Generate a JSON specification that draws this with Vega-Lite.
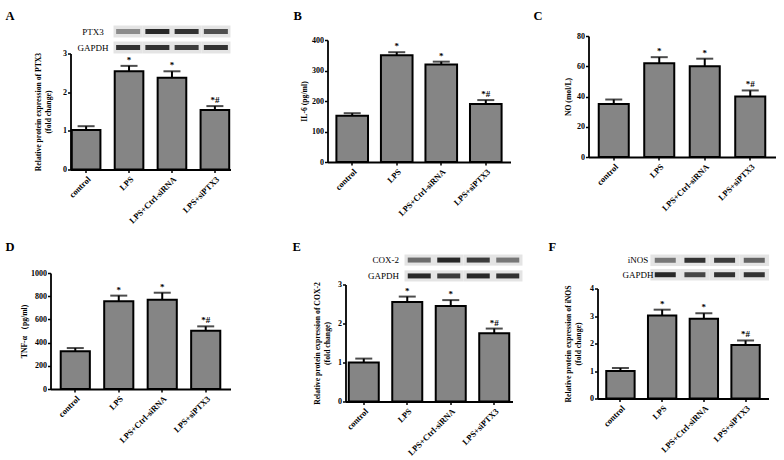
{
  "$schema": "https://vega.github.io/schema/vega-lite/v6.json",
  "background": "white",
  "padding": {"left": 0, "top": 9, "right": 0, "bottom": 0},
  "datasets": {
    "letters": [
      {"panel": "A", "letter": "A"}, {"panel": "B", "letter": "B"}, {"panel": "C", "letter": "C"},
      {"panel": "D", "letter": "D"}, {"panel": "E", "letter": "E"}, {"panel": "F", "letter": "F"},
      {"panel": "row", "letter": ""}
    ],
    "bars": [
      {"panel": "A", "group": "control", "value": 1.02, "upper": 1.12, "sig": ""},
      {"panel": "A", "group": "LPS", "value": 2.54, "upper": 2.68, "sig": "*"},
      {"panel": "A", "group": "LPS+Ctrl-siRNA", "value": 2.37, "upper": 2.54, "sig": "*"},
      {"panel": "A", "group": "LPS+siPTX3", "value": 1.54, "upper": 1.64, "sig": "*#"},
      {"panel": "B", "group": "control", "value": 152, "upper": 160, "sig": ""},
      {"panel": "B", "group": "LPS", "value": 350, "upper": 360, "sig": "*"},
      {"panel": "B", "group": "LPS+Ctrl-siRNA", "value": 320, "upper": 329, "sig": "*"},
      {"panel": "B", "group": "LPS+siPTX3", "value": 190, "upper": 203, "sig": "*#"},
      {"panel": "C", "group": "control", "value": 35, "upper": 38, "sig": ""},
      {"panel": "C", "group": "LPS", "value": 62, "upper": 66, "sig": "*"},
      {"panel": "C", "group": "LPS+Ctrl-siRNA", "value": 60, "upper": 65, "sig": "*"},
      {"panel": "C", "group": "LPS+siPTX3", "value": 40, "upper": 44, "sig": "*#"},
      {"panel": "D", "group": "control", "value": 325, "upper": 353, "sig": ""},
      {"panel": "D", "group": "LPS", "value": 756, "upper": 805, "sig": "*"},
      {"panel": "D", "group": "LPS+Ctrl-siRNA", "value": 770, "upper": 830, "sig": "*"},
      {"panel": "D", "group": "LPS+siPTX3", "value": 503, "upper": 540, "sig": "*#"},
      {"panel": "E", "group": "control", "value": 1.0, "upper": 1.1, "sig": ""},
      {"panel": "E", "group": "LPS", "value": 2.55, "upper": 2.69, "sig": "*"},
      {"panel": "E", "group": "LPS+Ctrl-siRNA", "value": 2.45, "upper": 2.6, "sig": "*"},
      {"panel": "E", "group": "LPS+siPTX3", "value": 1.75, "upper": 1.87, "sig": "*#"},
      {"panel": "F", "group": "control", "value": 1.0, "upper": 1.11, "sig": ""},
      {"panel": "F", "group": "LPS", "value": 3.02, "upper": 3.23, "sig": "*"},
      {"panel": "F", "group": "LPS+Ctrl-siRNA", "value": 2.9, "upper": 3.1, "sig": "*"},
      {"panel": "F", "group": "LPS+siPTX3", "value": 1.95, "upper": 2.11, "sig": "*#"}
    ],
    "blots": [
      {"panel": "A", "protein": "PTX3", "lane": "control", "intensity": 0.45},
      {"panel": "A", "protein": "PTX3", "lane": "LPS", "intensity": 0.95},
      {"panel": "A", "protein": "PTX3", "lane": "LPS+Ctrl-siRNA", "intensity": 0.9},
      {"panel": "A", "protein": "PTX3", "lane": "LPS+siPTX3", "intensity": 0.75},
      {"panel": "A", "protein": "GAPDH", "lane": "control", "intensity": 0.9},
      {"panel": "A", "protein": "GAPDH", "lane": "LPS", "intensity": 0.9},
      {"panel": "A", "protein": "GAPDH", "lane": "LPS+Ctrl-siRNA", "intensity": 0.85},
      {"panel": "A", "protein": "GAPDH", "lane": "LPS+siPTX3", "intensity": 0.9},
      {"panel": "E", "protein": "COX-2", "lane": "control", "intensity": 0.6},
      {"panel": "E", "protein": "COX-2", "lane": "LPS", "intensity": 0.95},
      {"panel": "E", "protein": "COX-2", "lane": "LPS+Ctrl-siRNA", "intensity": 0.85},
      {"panel": "E", "protein": "COX-2", "lane": "LPS+siPTX3", "intensity": 0.55},
      {"panel": "E", "protein": "GAPDH", "lane": "control", "intensity": 0.95},
      {"panel": "E", "protein": "GAPDH", "lane": "LPS", "intensity": 0.85},
      {"panel": "E", "protein": "GAPDH", "lane": "LPS+Ctrl-siRNA", "intensity": 0.95},
      {"panel": "E", "protein": "GAPDH", "lane": "LPS+siPTX3", "intensity": 0.9},
      {"panel": "F", "protein": "iNOS", "lane": "control", "intensity": 0.55},
      {"panel": "F", "protein": "iNOS", "lane": "LPS", "intensity": 0.9},
      {"panel": "F", "protein": "iNOS", "lane": "LPS+Ctrl-siRNA", "intensity": 0.85},
      {"panel": "F", "protein": "iNOS", "lane": "LPS+siPTX3", "intensity": 0.65},
      {"panel": "F", "protein": "GAPDH", "lane": "control", "intensity": 0.95},
      {"panel": "F", "protein": "GAPDH", "lane": "LPS", "intensity": 0.8},
      {"panel": "F", "protein": "GAPDH", "lane": "LPS+Ctrl-siRNA", "intensity": 0.9},
      {"panel": "F", "protein": "GAPDH", "lane": "LPS+siPTX3", "intensity": 0.9}
    ]
  },
  "align": "none",
  "spacing": 15,
  "vconcat": [
    {
      "align": "none",
      "spacing": 4.5,
      "hconcat": [
        {"width": 1, "height": 1, "data": {"name": "letters"}, "transform": [{"filter": "datum.panel === 'row'"}], "mark": {"type": "text", "fontSize": 1}, "encoding": {"text": {"field": "letter"}}},
        {
          "align": "none",
          "spacing": 23,
          "hconcat": [
            {
              "align": "none",
              "spacing": 63,
              "hconcat": [
                {
                  "align": "none",
                  "spacing": 2.5,
                  "vconcat": [
                    {"width": 1, "height": 12, "data": {"name": "letters"}, "transform": [{"filter": "datum.panel === 'A'"}], "mark": {"type": "text", "align": "left", "baseline": "middle", "dx": -65.5, "fontSize": 12.5, "fontWeight": "bold", "color": "black"}, "encoding": {"text": {"field": "letter"}}},
                    {
                      "align": "none",
                      "bounds": "flush",
                      "spacing": 0,
                      "vconcat": [
                        {
                          "width": 160, "height": 28,
                          "data": {"name": "blots"},
                          "transform": [{"filter": "datum.panel === 'A'"}],
                          "encoding": {
                            "x": {"field": "lane", "type": "nominal", "sort": ["control", "LPS", "LPS+Ctrl-siRNA", "LPS+siPTX3"], "axis": null, "scale": {"paddingInner": 0, "paddingOuter": 0.735, "align": 1}},
                            "y": {"field": "protein", "type": "nominal", "sort": ["PTX3", "GAPDH"], "title": null, "scale": {"paddingInner": 0.25, "paddingOuter": 0}, "axis": {"domain": false, "ticks": false, "offset": -43, "labelPadding": 21, "labelAlign": "center", "labelFontWeight": "normal", "labelFontSize": 9}}
                          },
                          "layer": [
                            {"mark": {"type": "rect", "fill": "#e4e4e4"}},
                            {"mark": {"type": "tick", "orient": "horizontal", "color": "#1e1e1e", "size": 24, "thickness": 5}, "encoding": {"opacity": {"field": "intensity", "type": "quantitative", "scale": {"domain": [0, 1], "range": [0, 1]}, "legend": null}}}
                          ]
                        },
                        {
                          "width": 160, "height": 116,
                          "data": {"name": "bars"},
                          "transform": [{"filter": "datum.panel === 'A'"}],
                          "encoding": {
                            "x": {"field": "group", "type": "nominal", "sort": ["control", "LPS", "LPS+Ctrl-siRNA", "LPS+siPTX3"], "title": null, "scale": {"paddingInner": 0.333, "paddingOuter": 0.03}},
                            "y": {"field": "value", "type": "quantitative", "scale": {"domain": [0, 3], "nice": false}, "title": ["Relative protein expression of PTX3", "(fold change)"], "axis": {"values": [0, 1, 2, 3], "titlePadding": 10}}
                          },
                          "layer": [
                            {"mark": {"type": "rule", "color": "black", "strokeWidth": 2}, "encoding": {"y2": {"field": "upper"}}},
                            {"mark": {"type": "tick", "color": "black", "thickness": 2, "size": 17}, "encoding": {"y": {"field": "upper", "type": "quantitative", "title": ["Relative protein expression of PTX3", "(fold change)"]}}},
                            {"mark": {"type": "bar", "fill": "#858585", "stroke": "black", "strokeWidth": 2}},
                            {"mark": {"type": "text", "baseline": "bottom", "dy": -1, "fontSize": 9, "fontWeight": "bold", "color": "black"}, "encoding": {"y": {"field": "upper", "type": "quantitative", "title": ["Relative protein expression of PTX3", "(fold change)"]}, "text": {"field": "sig"}}}
                          ]
                        }
                      ]
                    }
                  ]
                },
                {
                  "align": "none",
                  "spacing": 13,
                  "vconcat": [
                    {"width": 1, "height": 12, "data": {"name": "letters"}, "transform": [{"filter": "datum.panel === 'B'"}], "mark": {"type": "text", "align": "left", "baseline": "middle", "dx": -34.5, "fontSize": 12.5, "fontWeight": "bold", "color": "black"}, "encoding": {"text": {"field": "letter"}}},
                    {
                      "width": 183, "height": 122,
                      "data": {"name": "bars"},
                      "transform": [{"filter": "datum.panel === 'B'"}],
                      "encoding": {
                        "x": {"field": "group", "type": "nominal", "sort": ["control", "LPS", "LPS+Ctrl-siRNA", "LPS+siPTX3"], "title": null, "scale": {"paddingInner": 0.29, "paddingOuter": 0.2}},
                        "y": {"field": "value", "type": "quantitative", "scale": {"domain": [0, 400], "nice": false}, "title": "IL-6 (pg/ml)", "axis": {"values": [0, 100, 200, 300, 400], "titlePadding": 3}}
                      },
                      "layer": [
                        {"mark": {"type": "rule", "color": "black", "strokeWidth": 2}, "encoding": {"y2": {"field": "upper"}}},
                        {"mark": {"type": "tick", "color": "black", "thickness": 2, "size": 17}, "encoding": {"y": {"field": "upper", "type": "quantitative", "title": "IL-6 (pg/ml)"}}},
                        {"mark": {"type": "bar", "fill": "#858585", "stroke": "black", "strokeWidth": 2}},
                        {"mark": {"type": "text", "baseline": "bottom", "dy": -1, "fontSize": 9, "fontWeight": "bold", "color": "black"}, "encoding": {"y": {"field": "upper", "type": "quantitative", "title": "IL-6 (pg/ml)"}, "text": {"field": "sig"}}}
                      ]
                    }
                  ]
                }
              ]
            },
            {
              "align": "none",
              "spacing": 9,
              "vconcat": [
                {"width": 1, "height": 12, "data": {"name": "letters"}, "transform": [{"filter": "datum.panel === 'C'"}], "mark": {"type": "text", "align": "left", "baseline": "middle", "dx": -55.5, "fontSize": 12.5, "fontWeight": "bold", "color": "black"}, "encoding": {"text": {"field": "letter"}}},
                {
                  "width": 187, "height": 121,
                  "data": {"name": "bars"},
                  "transform": [{"filter": "datum.panel === 'C'"}],
                  "encoding": {
                    "x": {"field": "group", "type": "nominal", "sort": ["control", "LPS", "LPS+Ctrl-siRNA", "LPS+siPTX3"], "title": null, "scale": {"paddingInner": 0.34, "paddingOuter": 0.225}},
                    "y": {"field": "value", "type": "quantitative", "scale": {"domain": [0, 80], "nice": false}, "title": "NO (mol/L)", "axis": {"values": [0, 20, 40, 60, 80], "titlePadding": 4}}
                  },
                  "layer": [
                    {"mark": {"type": "rule", "color": "black", "strokeWidth": 2}, "encoding": {"y2": {"field": "upper"}}},
                    {"mark": {"type": "tick", "color": "black", "thickness": 2, "size": 17}, "encoding": {"y": {"field": "upper", "type": "quantitative", "title": "NO (mol/L)"}}},
                    {"mark": {"type": "bar", "fill": "#858585", "stroke": "black", "strokeWidth": 2}},
                    {"mark": {"type": "text", "baseline": "bottom", "dy": -1, "fontSize": 9, "fontWeight": "bold", "color": "black"}, "encoding": {"y": {"field": "upper", "type": "quantitative", "title": "NO (mol/L)"}, "text": {"field": "sig"}}}
                  ]
                }
              ]
            }
          ]
        }
      ]
    },
    {
      "align": "none",
      "spacing": 4.5,
      "hconcat": [
        {"width": 1, "height": 1, "data": {"name": "letters"}, "transform": [{"filter": "datum.panel === 'row'"}], "mark": {"type": "text", "fontSize": 1}, "encoding": {"text": {"field": "letter"}}},
        {
          "align": "none",
          "spacing": 26,
          "hconcat": [
            {
              "align": "none",
              "spacing": 62,
              "hconcat": [
                {
                  "align": "none",
                  "spacing": 15,
                  "vconcat": [
                    {"width": 1, "height": 12, "data": {"name": "letters"}, "transform": [{"filter": "datum.panel === 'D'"}], "mark": {"type": "text", "align": "left", "baseline": "middle", "dx": -45.5, "fontSize": 12.5, "fontWeight": "bold", "color": "black"}, "encoding": {"text": {"field": "letter"}}},
                    {
                      "width": 180, "height": 116,
                      "data": {"name": "bars"},
                      "transform": [{"filter": "datum.panel === 'D'"}],
                      "encoding": {
                        "x": {"field": "group", "type": "nominal", "sort": ["control", "LPS", "LPS+Ctrl-siRNA", "LPS+siPTX3"], "title": null, "scale": {"paddingInner": 0.33, "paddingOuter": 0.235}},
                        "y": {"field": "value", "type": "quantitative", "scale": {"domain": [0, 1000], "nice": false}, "title": "TNF-α （pg/ml)", "axis": {"values": [0, 200, 400, 600, 800, 1000], "format": "d", "titlePadding": 2}}
                      },
                      "layer": [
                        {"mark": {"type": "rule", "color": "black", "strokeWidth": 2}, "encoding": {"y2": {"field": "upper"}}},
                        {"mark": {"type": "tick", "color": "black", "thickness": 2, "size": 17}, "encoding": {"y": {"field": "upper", "type": "quantitative", "title": "TNF-α （pg/ml)"}}},
                        {"mark": {"type": "bar", "fill": "#858585", "stroke": "black", "strokeWidth": 2}},
                        {"mark": {"type": "text", "baseline": "bottom", "dy": -1, "fontSize": 9, "fontWeight": "bold", "color": "black"}, "encoding": {"y": {"field": "upper", "type": "quantitative", "title": "TNF-α （pg/ml)"}, "text": {"field": "sig"}}}
                      ]
                    }
                  ]
                },
                {
                  "align": "none",
                  "spacing": 0.5,
                  "vconcat": [
                    {"width": 1, "height": 12, "data": {"name": "letters"}, "transform": [{"filter": "datum.panel === 'E'"}], "mark": {"type": "text", "align": "left", "baseline": "middle", "dx": -53.5, "fontSize": 12.5, "fontWeight": "bold", "color": "black"}, "encoding": {"text": {"field": "letter"}}},
                    {
                      "align": "none",
                      "bounds": "flush",
                      "spacing": 3,
                      "vconcat": [
                        {
                          "width": 177, "height": 27,
                          "data": {"name": "blots"},
                          "transform": [{"filter": "datum.panel === 'E'"}],
                          "encoding": {
                            "x": {"field": "lane", "type": "nominal", "sort": ["control", "LPS", "LPS+Ctrl-siRNA", "LPS+siPTX3"], "axis": null, "scale": {"paddingInner": 0, "paddingOuter": 1.105, "align": 1}},
                            "y": {"field": "protein", "type": "nominal", "sort": ["COX-2", "GAPDH"], "title": null, "scale": {"paddingInner": 0.3, "paddingOuter": 0}, "axis": {"domain": false, "ticks": false, "offset": -63, "labelPadding": 10, "labelAlign": "right", "labelFontWeight": "normal", "labelFontSize": 9}}
                          },
                          "layer": [
                            {"mark": {"type": "rect", "fill": "#e4e4e4"}},
                            {"mark": {"type": "tick", "orient": "horizontal", "color": "#1e1e1e", "size": 23, "thickness": 5}, "encoding": {"opacity": {"field": "intensity", "type": "quantitative", "scale": {"domain": [0, 1], "range": [0, 1]}, "legend": null}}}
                          ]
                        },
                        {
                          "width": 167, "height": 117,
                          "data": {"name": "bars"},
                          "transform": [{"filter": "datum.panel === 'E'"}],
                          "encoding": {
                            "x": {"field": "group", "type": "nominal", "sort": ["control", "LPS", "LPS+Ctrl-siRNA", "LPS+siPTX3"], "title": null, "scale": {"paddingInner": 0.31, "paddingOuter": 0.075}},
                            "y": {"field": "value", "type": "quantitative", "scale": {"domain": [0, 3], "nice": false}, "title": ["Relative protein expression of COX-2", "(fold change)"], "axis": {"values": [0, 1, 2, 3], "titlePadding": 6}}
                          },
                          "layer": [
                            {"mark": {"type": "rule", "color": "black", "strokeWidth": 2}, "encoding": {"y2": {"field": "upper"}}},
                            {"mark": {"type": "tick", "color": "black", "thickness": 2, "size": 17}, "encoding": {"y": {"field": "upper", "type": "quantitative", "title": ["Relative protein expression of COX-2", "(fold change)"]}}},
                            {"mark": {"type": "bar", "fill": "#858585", "stroke": "black", "strokeWidth": 2}},
                            {"mark": {"type": "text", "baseline": "bottom", "dy": -1, "fontSize": 9, "fontWeight": "bold", "color": "black"}, "encoding": {"y": {"field": "upper", "type": "quantitative", "title": ["Relative protein expression of COX-2", "(fold change)"]}, "text": {"field": "sig"}}}
                          ]
                        }
                      ]
                    }
                  ]
                }
              ]
            },
            {
              "align": "none",
              "spacing": 0.5,
              "vconcat": [
                {"width": 1, "height": 12, "data": {"name": "letters"}, "transform": [{"filter": "datum.panel === 'F'"}], "mark": {"type": "text", "align": "left", "baseline": "middle", "dx": -49.5, "fontSize": 12.5, "fontWeight": "bold", "color": "black"}, "encoding": {"text": {"field": "letter"}}},
                {
                  "align": "none",
                  "bounds": "flush",
                  "spacing": 8,
                  "vconcat": [
                    {
                      "width": 178, "height": 26,
                      "data": {"name": "blots"},
                      "transform": [{"filter": "datum.panel === 'F'"}],
                      "encoding": {
                        "x": {"field": "lane", "type": "nominal", "sort": ["control", "LPS", "LPS+Ctrl-siRNA", "LPS+siPTX3"], "axis": null, "scale": {"paddingInner": 0, "paddingOuter": 1.423, "align": 0.892}},
                        "y": {"field": "protein", "type": "nominal", "sort": ["iNOS", "GAPDH"], "title": null, "scale": {"paddingInner": 0.2, "paddingOuter": 0}, "axis": {"domain": false, "ticks": false, "offset": -66, "labelPadding": 26, "labelAlign": "center", "labelFontWeight": "normal", "labelFontSize": 9}}
                      },
                      "layer": [
                        {"mark": {"type": "rect", "fill": "#e4e4e4"}},
                        {"mark": {"type": "tick", "orient": "horizontal", "color": "#1e1e1e", "size": 21, "thickness": 5}, "encoding": {"opacity": {"field": "intensity", "type": "quantitative", "scale": {"domain": [0, 1], "range": [0, 1]}, "legend": null}}}
                      ]
                    },
                    {
                      "width": 171, "height": 110,
                      "data": {"name": "bars"},
                      "transform": [{"filter": "datum.panel === 'F'"}],
                      "encoding": {
                        "x": {"field": "group", "type": "nominal", "sort": ["control", "LPS", "LPS+Ctrl-siRNA", "LPS+siPTX3"], "title": null, "scale": {"paddingInner": 0.32, "paddingOuter": 0.21}},
                        "y": {"field": "value", "type": "quantitative", "scale": {"domain": [0, 4], "nice": false}, "title": ["Relative protein expression of iNOS", "(fold change)"], "axis": {"values": [0, 1, 2, 3, 4], "titlePadding": 7}}
                      },
                      "layer": [
                        {"mark": {"type": "rule", "color": "black", "strokeWidth": 2}, "encoding": {"y2": {"field": "upper"}}},
                        {"mark": {"type": "tick", "color": "black", "thickness": 2, "size": 17}, "encoding": {"y": {"field": "upper", "type": "quantitative", "title": ["Relative protein expression of iNOS", "(fold change)"]}}},
                        {"mark": {"type": "bar", "fill": "#858585", "stroke": "black", "strokeWidth": 2}},
                        {"mark": {"type": "text", "baseline": "bottom", "dy": -1, "fontSize": 9, "fontWeight": "bold", "color": "black"}, "encoding": {"y": {"field": "upper", "type": "quantitative", "title": ["Relative protein expression of iNOS", "(fold change)"]}, "text": {"field": "sig"}}}
                      ]
                    }
                  ]
                }
              ]
            }
          ]
        }
      ]
    }
  ],
  "config": {
    "view": {"stroke": null},
    "font": "Liberation Serif",
    "axis": {"domainColor": "black", "domainWidth": 1.8, "tickColor": "black", "tickWidth": 1.5, "tickSize": 3, "labelFont": "Liberation Serif", "labelFontWeight": "bold", "labelFontSize": 8, "labelColor": "black", "labelPadding": 1, "titleFont": "Liberation Serif", "titleFontWeight": "bold", "titleFontSize": 7.7, "titleColor": "black", "grid": false},
    "axisX": {"labelAngle": -45, "labelPadding": 2, "labelFontSize": 8.5},
    "text": {"font": "Liberation Serif"}
  }
}
